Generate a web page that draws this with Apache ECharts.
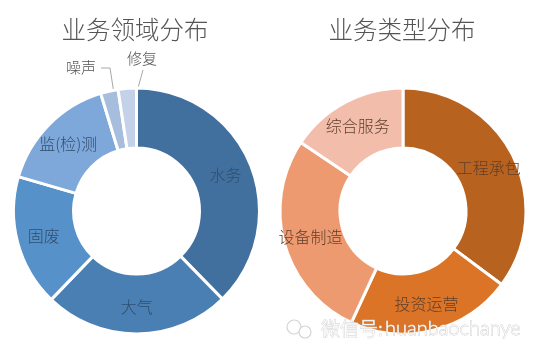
<!DOCTYPE html>
<html><head><meta charset="utf-8">
<style>html,body{margin:0;padding:0;background:#fff}#c{width:550px;height:357px}</style>
<script src="https://cdn.jsdelivr.net/npm/echarts@6/dist/echarts.min.js"></script>
</head><body><div id="c"></div>
<script>
const fieldNames = ['水务','大气','固废','监(检)测','噪声','修复'];
const fieldValues = [37.7,24.5,17.3,15.8,2.3,2.4];
const fieldColors = ['#41709f','#4a7fb3','#5791c9','#7fa8da','#a6bddd','#c4d2e9'];
const typeNames = ['工程承包','投资运营','设备制造','综合服务'];
const typeValues = [35.2,21.7,27.5,15.6];
const typeColors = ['#b8621f','#dc7427','#ee9a70','#f3bdab'];
const titles = ['业务领域分布','业务类型分布'];
const calloutNames = ['噪声','修复'];
const FONT = '"Noto Sans CJK SC","Noto Sans",sans-serif';

function toData(names, values, colors){
  return names.map((n,i)=>({name:n,value:values[i],itemStyle:{color:colors[i]}}));
}
const ring = (names,values,colors,cx,labelColor)=>({
  type:'pie',radius:[63,123],center:[cx,211],startAngle:90,clockwise:true,silent:true,
  animation:false,
  itemStyle:{borderColor:'#fff',borderWidth:3},
  label:{position:'inside',fontFamily:FONT,fontSize:16,fontWeight:300,color:labelColor,
    formatter:p=>calloutNames.includes(p.name)?'':p.name},
  labelLine:{show:false},
  data:toData(names,values,colors)
});
const calloutPos = {
  '噪声':{x:81,y:67,pts:[[101,68],[110,68],[117,113]]},
  '修复':{x:142,y:58,pts:[[143,70],[143,70],[130,117]]}
};
const calloutRing = {
  type:'pie',radius:[63,98],center:[136.5,211],startAngle:90,silent:true,animation:false,
  itemStyle:{color:'transparent',borderWidth:0},
  label:{position:'outside',fontFamily:FONT,fontSize:15,fontWeight:300,color:'#555',
    formatter:p=>calloutNames.includes(p.name)?p.name:''},
  labelLine:{show:true,length:10,length2:10,lineStyle:{color:'#a8a8a8',width:1}},
  labelLayout:p=>{
    const name = fieldNames[p.dataIndex], c = calloutPos[name];
    return c?{x:c.x,y:c.y,align:'center',verticalAlign:'middle',labelLinePoints:c.pts}:{};
  },
  data:fieldNames.map((n,i)=>({name:n,value:fieldValues[i],
    labelLine:{show:calloutNames.includes(n)}}))
};
const chart = echarts.init(document.getElementById('c'),null,{renderer:'canvas'});
chart.setOption({
  backgroundColor:'#fff',animation:false,
  title:titles.map((t,i)=>({text:t,left:[135,402][i],top:30,padding:0,textAlign:'center',textVerticalAlign:'middle',
    textStyle:{fontFamily:FONT,fontSize:24.5,fontWeight:300,color:'#555'}})),
  series:[
    ring(fieldNames,fieldValues,fieldColors,136.5,'#2f4d6d'),
    ring(typeNames,typeValues,typeColors,403,'#5e3f2c'),
    calloutRing
  ],
  graphic:[
    {type:'circle',shape:{cx:294,cy:327,r:7},style:{fill:'rgba(255,255,255,0.75)',stroke:'#d4d4d4',lineWidth:1.2},z:50},
    {type:'circle',shape:{cx:305,cy:332,r:6},style:{fill:'rgba(255,255,255,0.75)',stroke:'#d4d4d4',lineWidth:1.2},z:50},
    {type:'text',z:50,style:{text:'微信号:',x:321,y:329,verticalAlign:'middle',
      font:'300 19px '+FONT,fill:'#fff',stroke:'#cfcfcf',lineWidth:0.8}},
    {type:'text',z:50,style:{text:'huanbaochanye',x:385,y:329,verticalAlign:'middle',
      font:'300 20px Lato,sans-serif',fill:'#fff',stroke:'#c8c8c8',lineWidth:0.8}}
  ]
});
</script></body></html>
